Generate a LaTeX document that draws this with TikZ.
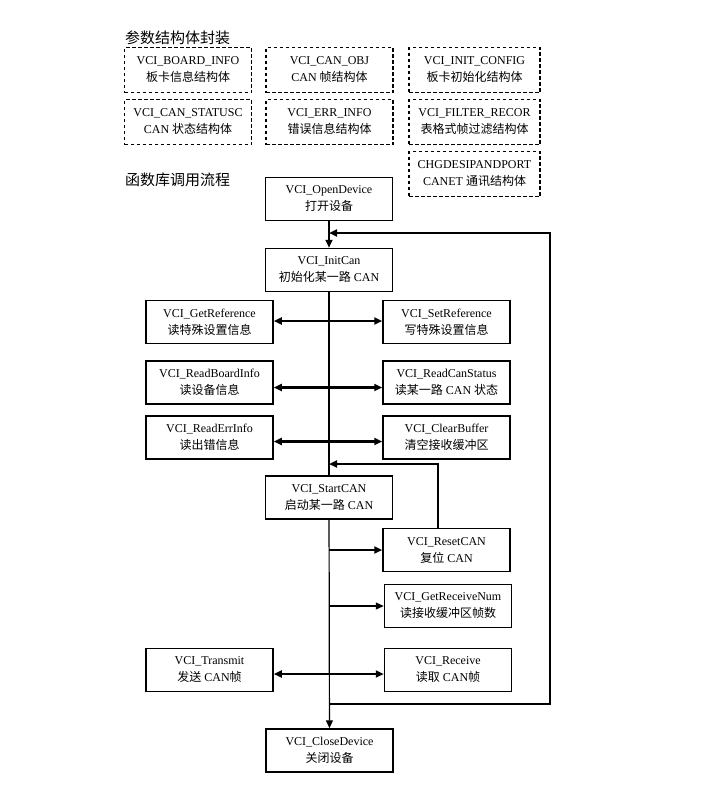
\documentclass[tikz,border=0pt]{standalone}
\usepackage{fontspec}
\setmainfont{Liberation Serif}
\newfontfamily\cjk{Noto Sans CJK SC}
\usetikzlibrary{arrows.meta}
\newcommand{\zh}[1]{{\cjk #1}}

\begin{document}
\begin{tikzpicture}[x=1pt,y=-1pt,
        box/.style={draw, line width=1.5pt, minimum width=127pt, minimum height=43pt, inner sep=1pt, align=center, font=\fontsize{12}{17}\selectfont},
        dbox/.style={box, line width=1.6pt, dash pattern=on 3.5pt off 2.5pt, minimum height=45pt},
        title/.style={anchor=west, inner sep=0pt, font=\cjk\fontsize{15}{18}\selectfont},
        bus/.style={line width=1.2pt},
        link/.style={line width=2pt},
        both/.style={line width=2.6pt, {Triangle[length=8pt,width=7pt]}-{Triangle[length=8pt,width=7pt]}},
        tip/.style={-{Triangle[length=8pt,width=7pt]}}]
        \useasboundingbox (0,0) rectangle (707,804);

        % Structures
        \node[title] (tStruct) at (125,38) {参数结构体封装};
        \node[dbox] (sBoard) at (188,70) {VCI\_BOARD\_INFO\\\zh{板卡信息结构体}};
        \node[dbox] (sObj) at (329.5,70) {VCI\_CAN\_OBJ\\CAN \zh{帧结构体}};
        \node[dbox, minimum width=131pt] (sInit) at (474.5,70) {VCI\_INIT\_CONFIG\\\zh{板卡初始化结构体}};
        \node[dbox] (sStatus) at (188,122) {VCI\_CAN\_STATUSC\\CAN \zh{状态结构体}};
        \node[dbox] (sErr) at (329.5,122) {VCI\_ERR\_INFO\\\zh{错误信息结构体}};
        \node[dbox, minimum width=131pt] (sFilter) at (474.5,122) {VCI\_FILTER\_RECOR\\\zh{表格式帧过滤结构体}};
        \node[dbox, minimum width=131pt] (sNet) at (474.5,174) {CHGDESIPANDPORT\\CANET \zh{通讯结构体}};

        % Call flow
        \node[title] (tFlow) at (125,180) {函数库调用流程};
        \node[box] (open) at (329,199) {VCI\_OpenDevice\\\zh{打开设备}};
        \node[box] (init) at (329,270) {VCI\_InitCan\\\zh{初始化某一路} CAN};
        \node[box] (getRef) at (209.5,322) {VCI\_GetReference\\\zh{读特殊设置信息}};
        \node[box] (setRef) at (446.5,322) {VCI\_SetReference\\\zh{写特殊设置信息}};
        \node[box] (board) at (209.5,382.5) {VCI\_ReadBoardInfo\\\zh{读设备信息}};
        \node[box] (status) at (446.5,382.5) {VCI\_ReadCanStatus\\\zh{读某一路} CAN \zh{状态}};
        \node[box] (err) at (209.5,437.5) {VCI\_ReadErrInfo\\\zh{读出错信息}};
        \node[box] (clear) at (446.5,437.5) {VCI\_ClearBuffer\\\zh{清空接收缓冲区}};
        \node[box] (start) at (329,497.5) {VCI\_StartCAN\\\zh{启动某一路} CAN};
        \node[box] (reset) at (446.5,550) {VCI\_ResetCAN\\\zh{复位} CAN};
        \node[box] (recvNum) at (448,606) {VCI\_GetReceiveNum\\\zh{读接收缓冲区帧数}};
        \node[box] (send) at (209.5,670) {VCI\_Transmit\\\zh{发送} CAN\zh{帧}};
        \node[box] (recv) at (448,670) {VCI\_Receive\\\zh{读取} CAN\zh{帧}};
        \node[box] (close) at (329.5,750.5) {VCI\_CloseDevice\\\zh{关闭设备}};

        % Main line
        \coordinate (loopIn) at (329,233);
        \coordinate (loopOut) at (329,704);
        \coordinate (resetIn) at (329,464);
        \draw[link, tip] (open) -- (init);
        \draw[bus] (init) -- (start);
        \draw[bus, tip] (start) -- (close);

        % Side calls
        \draw[both] ([yshift=1pt]getRef.east) -- ([yshift=1pt]setRef.west);
        \draw[both] ([yshift=-5pt]board.east) -- ([yshift=-5pt]status.west);
        \draw[both] ([yshift=-4pt]err.east) -- ([yshift=-4pt]clear.west);
        \draw[both] ([yshift=-4pt]send.east) -- ([yshift=-4pt]recv.west);
        \draw[link, tip] (start.south |- reset.west) -- (reset.west);
        \draw[bus, tip] (start.south |- recvNum.west) -- (recvNum.west);

        % Loops back
        \draw[link, tip] ([xshift=-8.5pt]reset.north) |- (resetIn);
        \draw[link, tip] (loopOut) -- ++(221,0) |- (loopIn);
    \end{tikzpicture}
\end{document}
